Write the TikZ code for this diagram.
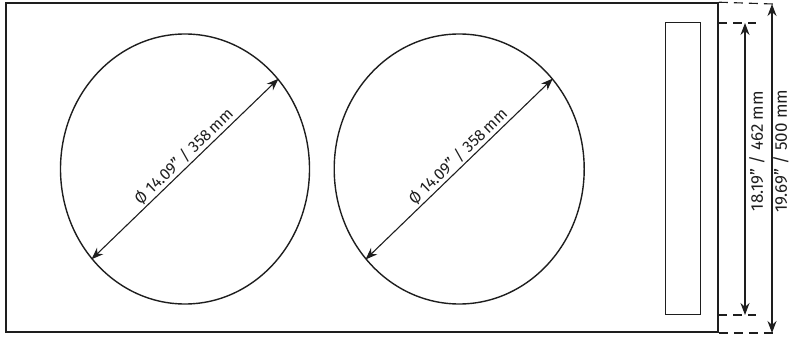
\documentclass[tikz,border=0pt]{standalone}
\usepackage{fontspec}
\setmainfont{Fira Sans}
\usetikzlibrary{shapes.geometric,arrows.meta}
\definecolor{ink}{HTML}{1E1E1E}
\tikzset{
  frame/.style={draw=ink,line width=1.8pt},
  disc/.style={draw=ink,line width=1.4pt,ellipse,inner sep=0pt,minimum width=249pt,minimum height=270pt},
  dimline/.style={draw=ink,line width=1.1pt,{Stealth[length=12pt,width=9pt]}-{Stealth[length=12pt,width=9pt]}},
  extline/.style={draw=ink,line width=1.1pt,dash pattern=on 9pt off 6pt},
  lbl/.style={text=ink,font=\fontsize{16pt}{18pt}\selectfont,inner sep=0pt},
  vlbl/.style={text=ink,font=\fontsize{17pt}{19pt}\selectfont,inner sep=0pt,rotate=90}
}
\begin{document}
\begin{tikzpicture}[x=1pt,y=1pt]
\useasboundingbox (0,0) rectangle (792,338);
% outer frame
\node[frame,rectangle,minimum width=712pt,minimum height=329pt,inner sep=0pt,anchor=south west] (outer) at (5,5) {};
% handle slot
\node[draw=ink,line width=1.4pt,rectangle,minimum width=35pt,minimum height=292pt,inner sep=0pt,anchor=south west] (slot) at (665,23) {};
% discs
\node[disc] (d1) at (185,169) {};
\node[disc,minimum width=250pt] (d2) at (459.2,169) {};
\draw[dimline] (d1.224.5) -- node[lbl,sloped,pos=0.53,above=10pt,anchor=center] {Ø 14.09” / 358\,mm} (d1.44.5);
\draw[dimline] (d2.224.5) -- node[lbl,sloped,pos=0.53,above=10pt,anchor=center] {Ø 14.09” / 358\,mm} (d2.44.5);
% extension lines
\coordinate (t1) at (773,334);
\coordinate (t2) at (756,315);
\coordinate (b2) at (756,23);
\coordinate (b1) at (773,5);
\coordinate (s1) at (718,315);
\coordinate (s2) at (718,23);
\draw[extline] (outer.north east) -- (t1);
\draw[extline] (outer.south east) -- (b1);
\draw[extline] (s1) -- (t2);
\draw[extline] (s2) -- (b2);
% dimension arrows
\coordinate (a1t) at (745,315);
\coordinate (a1b) at (745,23);
\coordinate (a2t) at (772,334);
\coordinate (a2b) at (772,5);
\draw[dimline] (a1b) -- (a1t);
\draw[dimline] (a2b) -- (a2t);
\node[vlbl] (l1) at (757,187) {18.19” / 462 mm};
\node[vlbl] (l2) at (781,187) {19.69” / 500 mm};
\end{tikzpicture}
\end{document}
